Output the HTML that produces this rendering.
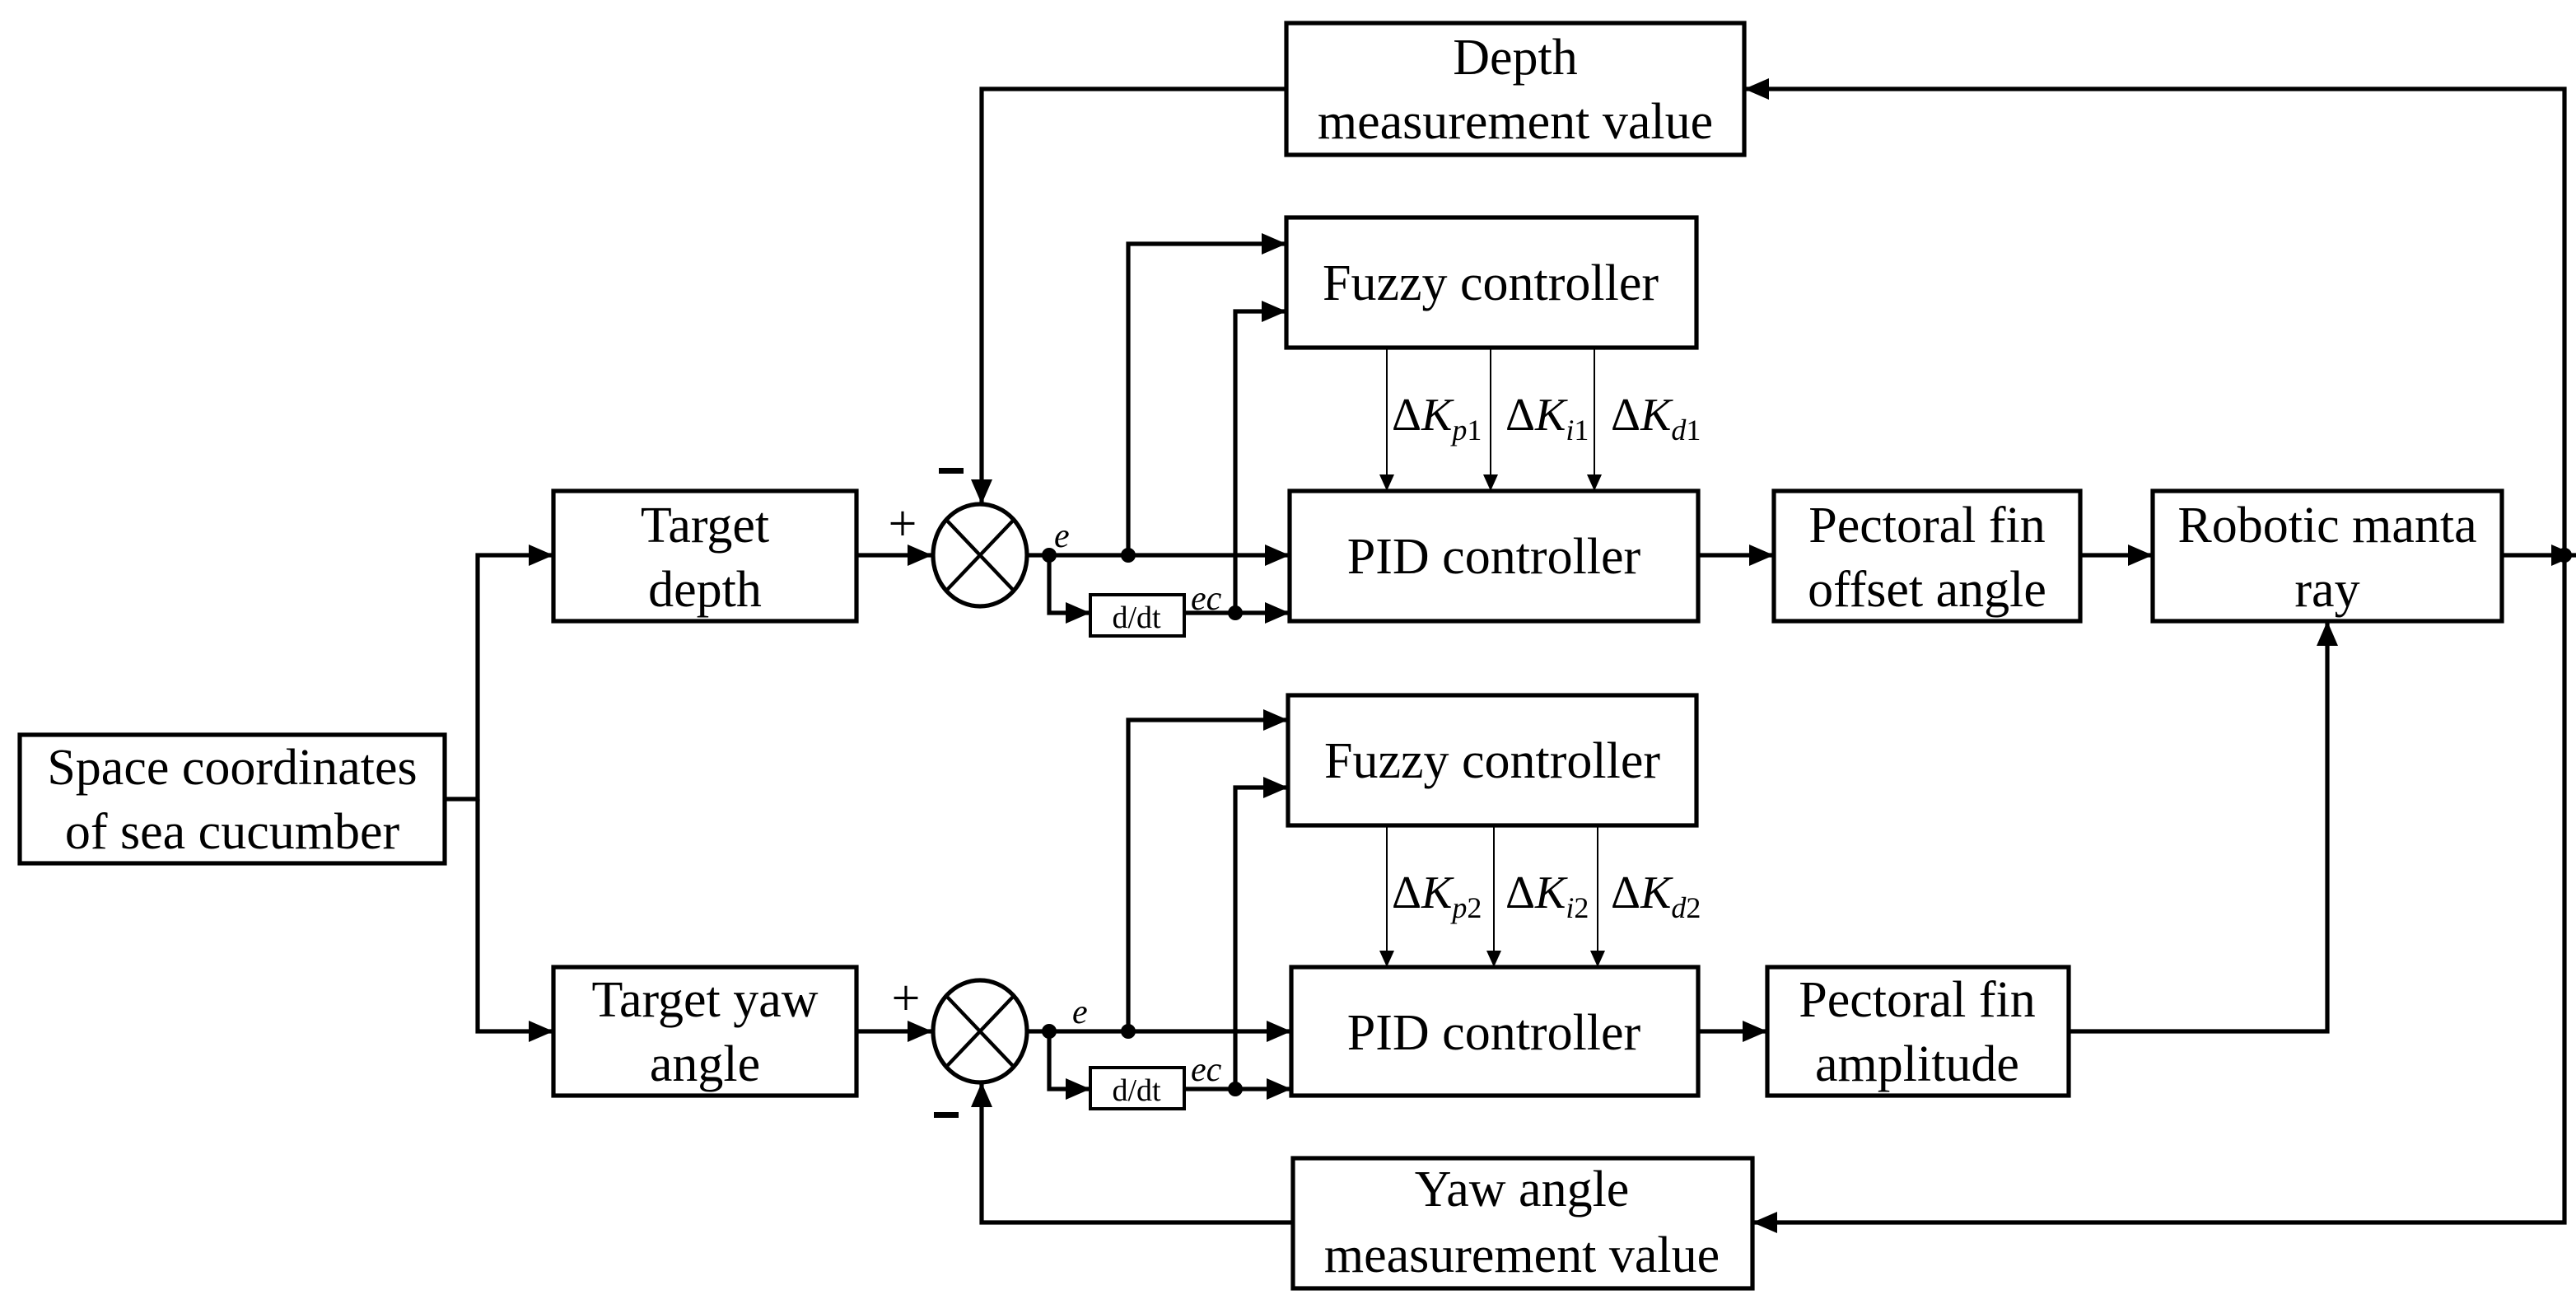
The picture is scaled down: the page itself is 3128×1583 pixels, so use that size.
<!DOCTYPE html>
<html><head><meta charset="utf-8"><style>html,body{margin:0;padding:0;background:#fff}svg{display:block}</style></head>
<body>
<svg width="3128" height="1583" viewBox="0 0 1564 791.5" xmlns="http://www.w3.org/2000/svg" font-family="Liberation Serif, serif">
<defs>
<marker id="a" markerWidth="10" markerHeight="9" refX="10" refY="4.5" orient="auto" markerUnits="userSpaceOnUse"><path d="M0,0 L10,4.5 L0,9 Z" fill="#000"/></marker>
<marker id="b" markerWidth="15" markerHeight="13" refX="15" refY="6.5" orient="auto" markerUnits="userSpaceOnUse"><path d="M0,0 L15,6.5 L0,13 Z" fill="#000"/></marker>
</defs>
<g fill="none" stroke="#000" stroke-width="2.6">
<rect x="781" y="14" width="278" height="80"/>
<rect x="781" y="132" width="249" height="79"/>
<rect x="783" y="298" width="248" height="79"/>
<rect x="336" y="298" width="184" height="79"/>
<rect x="12" y="446" width="258" height="78"/>
<rect x="336" y="587" width="184" height="78"/>
<rect x="1077" y="298" width="186" height="79"/>
<rect x="1307" y="298" width="212" height="79"/>
<rect x="782" y="422" width="248" height="79"/>
<rect x="784" y="587" width="247" height="78"/>
<rect x="1073" y="587" width="183" height="78"/>
<rect x="785" y="703" width="279" height="79"/>
<rect x="662" y="361" width="57" height="25" stroke-width="2"/>
<rect x="662" y="648" width="57" height="25" stroke-width="2"/>
<ellipse cx="595" cy="337" rx="28.5" ry="31"/>
<ellipse cx="595" cy="626" rx="28.5" ry="31"/>
<path d="M575,316 L615,358 M615,316 L575,358 M575,605 L615,647 M615,605 L575,647" stroke-width="2.2"/>
</g>
<g fill="none" stroke="#000" stroke-width="2.6">
<path d="M270,485 H290 V337 H336" marker-end="url(#b)"/>
<path d="M290,485 V626 H336" marker-end="url(#b)"/>
<path d="M520,337 H566" marker-end="url(#b)"/>
<path d="M520,626 H566" marker-end="url(#b)"/>
<path d="M781,54 H596 V306" marker-end="url(#b)"/>
<path d="M785,742 H596 V657" marker-end="url(#b)"/>
<path d="M624,337 H783" marker-end="url(#b)"/>
<path d="M685,337 V148 H781" marker-end="url(#b)"/>
<path d="M637,337 V372 H662" marker-end="url(#b)"/>
<path d="M719,372 H783" marker-end="url(#b)"/>
<path d="M750,372 V189 H781" marker-end="url(#b)"/>
<path d="M624,626 H784" marker-end="url(#b)"/>
<path d="M685,626 V437 H782" marker-end="url(#b)"/>
<path d="M637,626 V661 H662" marker-end="url(#b)"/>
<path d="M719,661 H784" marker-end="url(#b)"/>
<path d="M750,661 V478 H782" marker-end="url(#b)"/>
<path d="M1031,337 H1077" marker-end="url(#b)"/>
<path d="M1263,337 H1307" marker-end="url(#b)"/>
<path d="M1519,337 H1564" marker-end="url(#b)"/>
<path d="M1557,337 V54 H1059" marker-end="url(#b)"/>
<path d="M1557,337 V742 H1064" marker-end="url(#b)"/>
<path d="M1031,626 H1073" marker-end="url(#b)"/>
<path d="M1256,626 H1413 V377" marker-end="url(#b)"/>
</g>
<g fill="none" stroke="#000" stroke-width="1">
<path d="M842,211 V298" marker-end="url(#a)"/>
<path d="M905,211 V298" marker-end="url(#a)"/>
<path d="M968,211 V298" marker-end="url(#a)"/>
<path d="M842,501 V587" marker-end="url(#a)"/>
<path d="M907,501 V587" marker-end="url(#a)"/>
<path d="M970,501 V587" marker-end="url(#a)"/>
</g>
<g fill="#000">
<circle cx="637" cy="337" r="4.5"/><circle cx="685" cy="337" r="4.5"/><circle cx="750" cy="372" r="4.5"/>
<circle cx="637" cy="626" r="4.5"/><circle cx="685" cy="626" r="4.5"/><circle cx="750" cy="661" r="4.5"/>
<circle cx="1557" cy="337" r="4.5"/>
</g>
<g font-size="31" text-anchor="middle" fill="#000">
<text x="920" y="45">Depth</text>
<text x="920" y="84">measurement value</text>
<text x="905" y="182">Fuzzy controller</text>
<text x="907" y="348">PID controller</text>
<text x="428" y="329">Target</text>
<text x="428" y="368">depth</text>
<text x="141" y="476">Space coordinates</text>
<text x="141" y="515">of sea cucumber</text>
<text x="428" y="617">Target yaw</text>
<text x="428" y="656">angle</text>
<text x="1170" y="329">Pectoral fin</text>
<text x="1170" y="368">offset angle</text>
<text x="1413" y="329">Robotic manta</text>
<text x="1413" y="368">ray</text>
<text x="906" y="472">Fuzzy controller</text>
<text x="907" y="637">PID controller</text>
<text x="1164" y="617">Pectoral fin</text>
<text x="1164" y="656">amplitude</text>
<text x="924" y="732">Yaw angle</text>
<text x="924" y="772">measurement value</text>
<text x="548" y="328">+</text>
<text x="550" y="616">+</text>
</g>
<g fill="#000">
<rect x="570" y="284" width="15" height="3.5"/>
<rect x="567" y="675" width="15" height="3.5"/>
<text x="690" y="381" font-size="19" text-anchor="middle">d/dt</text>
<text x="690" y="668" font-size="19" text-anchor="middle">d/dt</text>
<g font-style="italic" font-size="21">
<text x="640" y="332">e</text><text x="723" y="370">ec</text>
<text x="651" y="621">e</text><text x="723" y="656">ec</text>
</g>
<g font-size="28">
<text x="845" y="261">Δ<tspan font-style="italic">K</tspan><tspan font-size="18" font-style="italic" dy="6">p</tspan><tspan font-size="18">1</tspan></text>
<text x="914" y="261">Δ<tspan font-style="italic">K</tspan><tspan font-size="18" font-style="italic" dy="6">i</tspan><tspan font-size="18">1</tspan></text>
<text x="978" y="261">Δ<tspan font-style="italic">K</tspan><tspan font-size="18" font-style="italic" dy="6">d</tspan><tspan font-size="18">1</tspan></text>
<text x="845" y="551">Δ<tspan font-style="italic">K</tspan><tspan font-size="18" font-style="italic" dy="6">p</tspan><tspan font-size="18">2</tspan></text>
<text x="914" y="551">Δ<tspan font-style="italic">K</tspan><tspan font-size="18" font-style="italic" dy="6">i</tspan><tspan font-size="18">2</tspan></text>
<text x="978" y="551">Δ<tspan font-style="italic">K</tspan><tspan font-size="18" font-style="italic" dy="6">d</tspan><tspan font-size="18">2</tspan></text>
</g>
</g>
</svg>
</body></html>
